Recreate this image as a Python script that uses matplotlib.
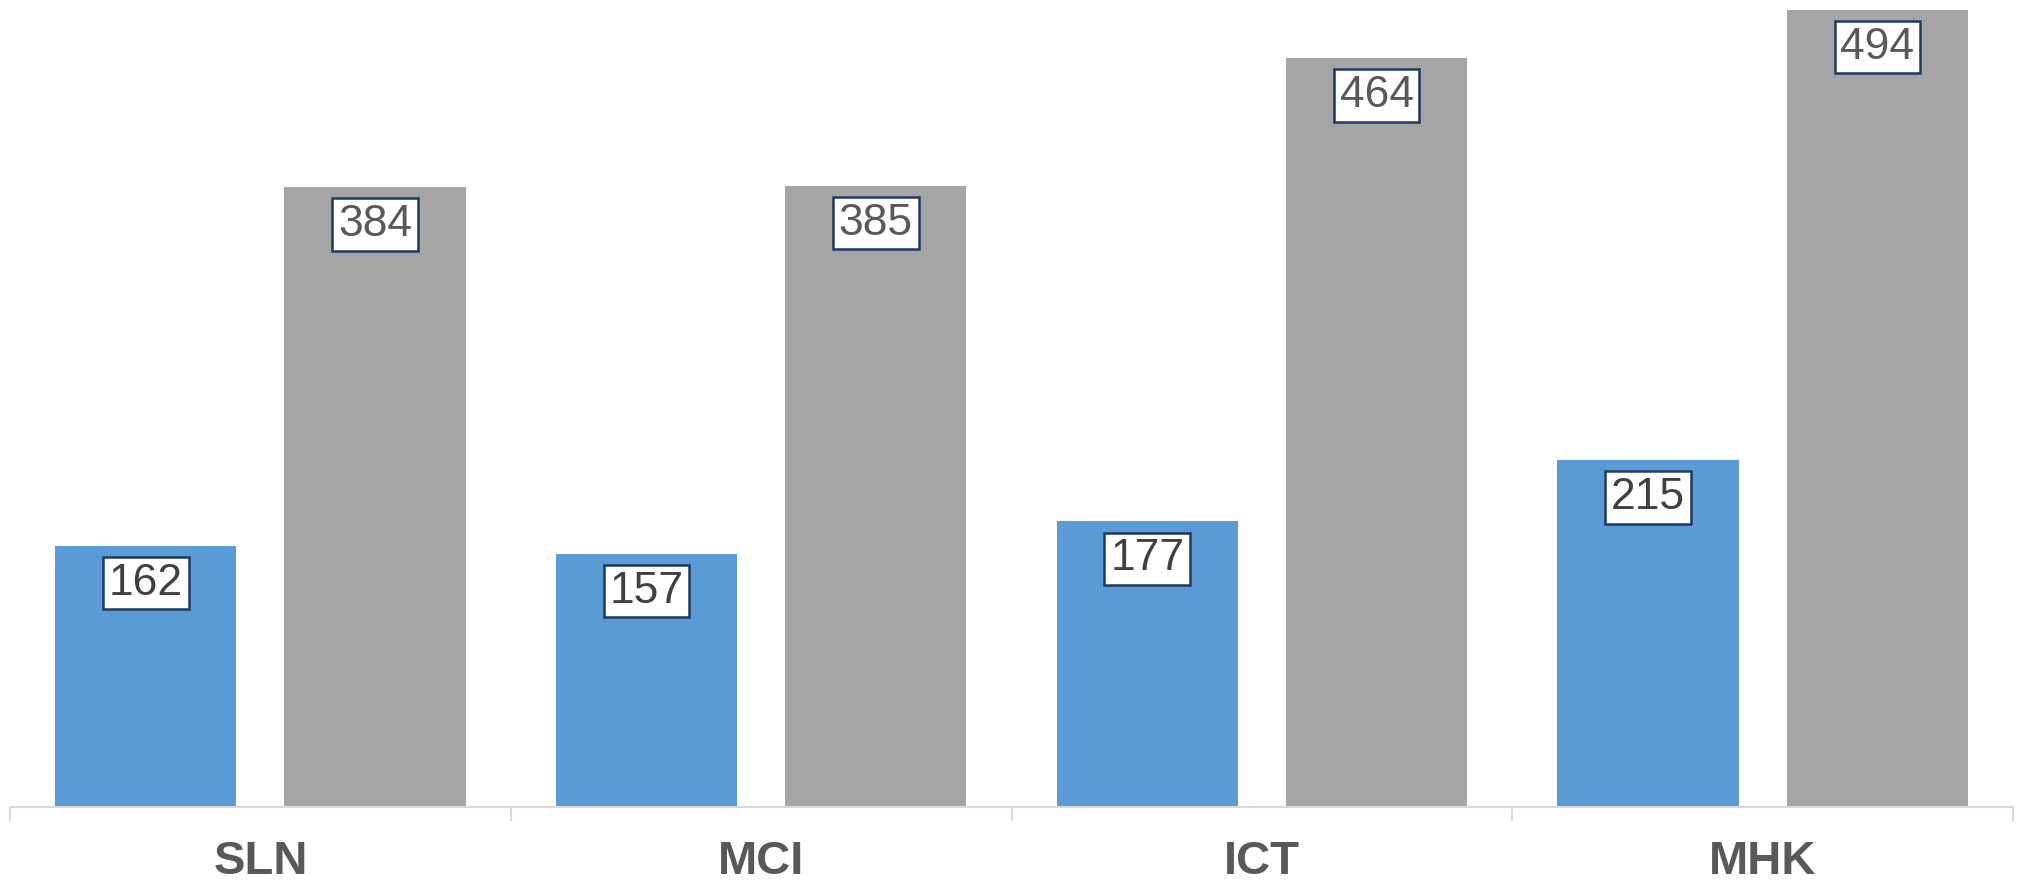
import numpy as np
from matplotlib import pyplot as plt

# Data
categories = ['SLN', 'MCI', 'ICT', 'MHK']
series_a = [162, 157, 177, 215]
series_b = [384, 385, 464, 494]

blue = '#5b9bd5'
grey = '#a5a5a5'

fig = plt.figure(figsize=(20.21, 8.83), dpi=100)
ax = fig.add_axes([10 / 2021, 76 / 883, 2003 / 2021, 807 / 883])

x = np.arange(len(categories))
w = 0.362
off = 0.229
bars_a = ax.bar(x - off, series_a, w, color=blue)
bars_b = ax.bar(x + off, series_b, w, color=grey)


# Boxed value labels just under the top of each bar
def label_bars(bars, values, color):
    for b, v in zip(bars, values):
        ax.annotate(str(v), (b.get_x() + b.get_width() / 2, b.get_height()),
                    xytext=(0, -27), textcoords='offset points',
                    ha='center', va='center', fontsize=32, color=color,
                    family='Liberation Sans',
                    bbox=dict(boxstyle='square,pad=0.13', fc='white',
                              ec='#1f3864', lw=1.8))


label_bars(bars_a, series_a, '#404040')
label_bars(bars_b, series_b, '#595959')

ax.set_xlim(-0.5, len(categories) - 0.5)
ax.set_ylim(0, 500)

for s in ['top', 'right', 'left']:
    ax.spines[s].set_visible(False)
ax.spines['bottom'].set_color('#d9d9d9')
ax.spines['bottom'].set_linewidth(1.5)
ax.set_yticks([])

# Ticks between categories, labels at centres
ax.set_xticks(np.arange(len(categories) + 1) - 0.5)
ax.set_xticklabels([])
ax.tick_params(axis='x', which='major', length=10, width=1.5, color='#d9d9d9')
ax.set_xticks(x, minor=True)
ax.set_xticklabels(categories, minor=True, fontsize=34, fontweight='bold',
                   color='#595959', family='Liberation Sans')
ax.tick_params(axis='x', which='minor', length=0, pad=24)

plt.savefig('out.png', dpi=100)
